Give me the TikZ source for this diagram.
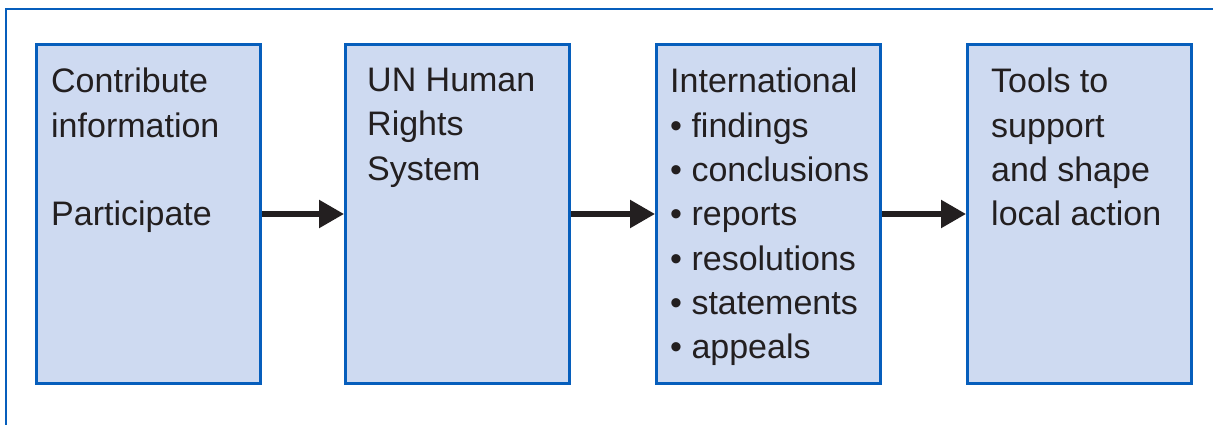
\documentclass[tikz,border=0pt]{standalone}
\usepackage{fontspec}
\setmainfont{Liberation Sans}
\usetikzlibrary{positioning,arrows.meta}
\definecolor{unblue}{RGB}{6,94,188}
\definecolor{unfill}{RGB}{206,218,241}
\definecolor{inkblack}{RGB}{35,31,32}
\tikzset{
	stage/.style={draw=unblue, fill=unfill, line width=3pt, minimum width=224pt, minimum height=339pt, inner sep=0pt},
	stagetext/.style={anchor=north west, inner sep=0pt, align=left, text=inkblack, font=\fontsize{34}{44.3}\selectfont},
	flow/.style={draw=inkblack, line width=5.5pt, -{Triangle[length=25pt, width=27pt]}}
}
\begin{document}
\begin{tikzpicture}[x=1pt, y=-1pt, node distance=84pt]
	\useasboundingbox (0,0) rectangle (1213,425);
	\draw[unblue, line width=2pt] (6,440) -- (6,9) -- (1230,9);

	\node[stage]                          (contribute) at (148.5, 214) {};
	\node[stage, right=82pt of contribute] (system)    {};
	\node[stage, right=of system]          (outputs)   {};
	\node[stage, right=of outputs]         (tools)     {};

	\node[stagetext] (contributeText) at ([xshift=16pt, yshift=-25pt]contribute.north west) {Contribute\\information\\[44.3pt]Participate};
	\node[stagetext] (systemText)     at ([xshift=23pt, yshift=-25pt]system.north west)     {UN Human\\Rights\\System};
	\node[stagetext] (outputsText)    at ([xshift=15pt, yshift=-25pt]outputs.north west)    {International\\• findings\\• conclusions\\• reports\\• resolutions\\• statements\\• appeals};
	\node[stagetext] (toolsText)      at ([xshift=25pt, yshift=-25pt]tools.north west)      {Tools to\\support\\and shape\\local action};

	\draw[flow] (contribute) -- (system);
	\draw[flow] (system) -- (outputs);
	\draw[flow] (outputs) -- (tools);
\end{tikzpicture}
\end{document}
